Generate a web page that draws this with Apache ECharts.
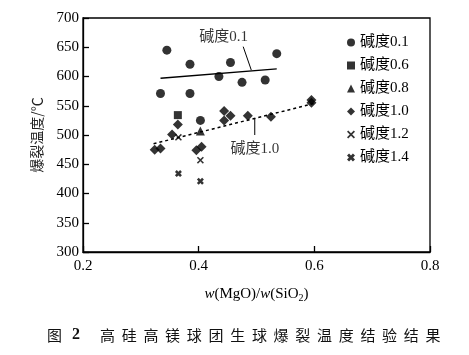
<!DOCTYPE html>
<html>
<head>
<meta charset="utf-8">
<script src="https://cdn.jsdelivr.net/npm/echarts@6/dist/echarts.min.js"></script>
<style>html,body{margin:0;padding:0;background:#fff;}#c{width:469px;height:355px;}</style>
</head>
<body>
<div id="c"></div>
<script>
// ---- data ----
var xTicks = [0.2, 0.4, 0.6, 0.8];
var yTicks = [300, 350, 400, 450, 500, 550, 600, 650, 700];
var seriesNames = ['碱度0.1', '碱度0.6', '碱度0.8', '碱度1.0', '碱度1.2', '碱度1.4'];
var b01 = [[0.345,645],[0.385,621],[0.455,624],[0.535,639],[0.435,600],[0.475,590],[0.515,594],[0.334,571],[0.385,571],[0.403,525]];
var b06 = [[0.364,534]];
var b08 = [[0.403,507]];
var b10 = [[0.364,518],[0.354,501],[0.324,475],[0.334,477],[0.396,474],[0.405,480],[0.444,541],[0.455,533],[0.444,525],[0.485,533],[0.525,531],[0.595,555],[0.595,560]];
var b12 = [[0.365,496],[0.403,457]];
var b14 = [[0.365,434],[0.403,421]];
var fit01 = [[0.334,597],[0.535,613]];
var fit10 = [[0.322,485],[0.600,554]];
var leader01 = [[0.477,651],[0.491,611]];
var leader10 = [[0.497,529],[0.497,500]];
var label01 = [[0.443,667,'碱度0.1']];
var label10 = [[0.497,476,'碱度1.0']];
var captionFig = '图';
var captionNum = '2';
var captionText = '高硅高镁球团生球爆裂温度结验结果';

var FONT = '"Liberation Serif", "Noto Sans CJK SC", serif';
var crossBold = 'path://M2.6,0 L5,2.4 L7.4,0 L10,2.6 L7.6,5 L10,7.4 L7.4,10 L5,7.6 L2.6,10 L0,7.4 L2.4,5 L0,2.6 Z';
var crossThin = 'path://M1.5,0 L5,3.5 L8.5,0 L10,1.5 L6.5,5 L10,8.5 L8.5,10 L5,6.5 L1.5,10 L0,8.5 L3.5,5 L0,1.5 Z';

function scat(name, data, symbol, size) {
  return {name: name, type: 'scatter', data: data, symbol: symbol, symbolSize: size,
    itemStyle: {color: '#000'}, z: 5};
}
function line(data, type, width) {
  return {type: 'line', data: data, symbol: 'none', silent: true,
    lineStyle: {color: '#000', width: width, type: type}, z: 3};
}
function lbl(data) {
  return {type: 'scatter', data: data, symbolSize: 0, silent: true,
    label: {show: true, position: 'inside', formatter: function(p){return p.value[2];},
      color: '#000', fontFamily: FONT, fontSize: 15}};
}

var caption = [];
caption.push({type:'text', left: 47, top: 328, style:{text: captionFig, font: '15px "Noto Sans CJK SC"', fill:'#111'}});
caption.push({type:'text', left: 72, top: 327, style:{text: captionNum, font: 'bold 16px "Liberation Serif"', fill:'#111'}});
for (var i = 0; i < captionText.length; i++) {
  caption.push({type:'text', left: 100 + i*21.7, top: 328, style:{text: captionText[i], font: '15px "Noto Sans CJK SC"', fill:'#111'}});
}

var chart = echarts.init(document.getElementById('c'));
chart.setOption({
  animation: false,
  backgroundColor: '#fff',
  grid: {left: 83, right: 39, top: 18, bottom: 103, show: true, borderColor: '#000', borderWidth: 1.3},
  legend: {
    orient: 'vertical', left: 342, top: 30, itemGap: 8, itemWidth: 8, itemHeight: 8,
    data: seriesNames,
    textStyle: {fontFamily: FONT, fontSize: 15, color: '#000'}
  },
  xAxis: {
    type: 'value', min: xTicks[0], max: xTicks[xTicks.length-1], interval: 0.2,
    axisLine: {lineStyle: {color: '#000', width: 1.3}},
    axisTick: {inside: true, length: 6, lineStyle: {color: '#000', width: 1.3}},
    splitLine: {show: false},
    axisLabel: {color: '#000', fontFamily: FONT, fontSize: 15, margin: 7,
      formatter: function(v){return v.toFixed(1);}},
    name: '{i|w}(MgO)/{i|w}(SiO{s|2})', nameLocation: 'middle', nameGap: 33,
    nameTextStyle: {color: '#000', fontFamily: FONT, fontSize: 15,
      rich: {i: {fontStyle: 'italic', fontFamily: FONT, fontSize: 15}, s: {fontSize: 10, fontFamily: FONT, verticalAlign: 'bottom', padding: [8,0,0,0]}}}
  },
  yAxis: {
    type: 'value', min: yTicks[0], max: yTicks[yTicks.length-1], interval: 50,
    axisLine: {show: true, lineStyle: {color: '#000', width: 1.3}},
    axisTick: {show: true, inside: true, length: 6, lineStyle: {color: '#000', width: 1.3}},
    splitLine: {show: false},
    axisLabel: {color: '#000', fontFamily: FONT, fontSize: 15, margin: 4},
    name: '爆裂温度/℃', nameLocation: 'middle', nameGap: 39, nameRotate: 90,
    nameTextStyle: {color: '#222', fontFamily: '"Noto Sans CJK SC"', fontSize: 14}
  },
  graphic: caption,
  series: [
    line(fit01, 'solid', 1.3),
    line(fit10, [3, 3], 1.5),
    line(leader01, 'solid', 1),
    line(leader10, 'solid', 1),
    lbl(label01),
    lbl(label10),
    scat(seriesNames[0], b01, 'circle', 9),
    scat(seriesNames[1], b06, 'rect', 8),
    scat(seriesNames[2], b08, 'triangle', 9),
    scat(seriesNames[3], b10, 'diamond', 10),
    scat(seriesNames[4], b12, crossThin, 7),
    scat(seriesNames[5], b14, crossBold, 7)
  ]
});
</script>
</body>
</html>
